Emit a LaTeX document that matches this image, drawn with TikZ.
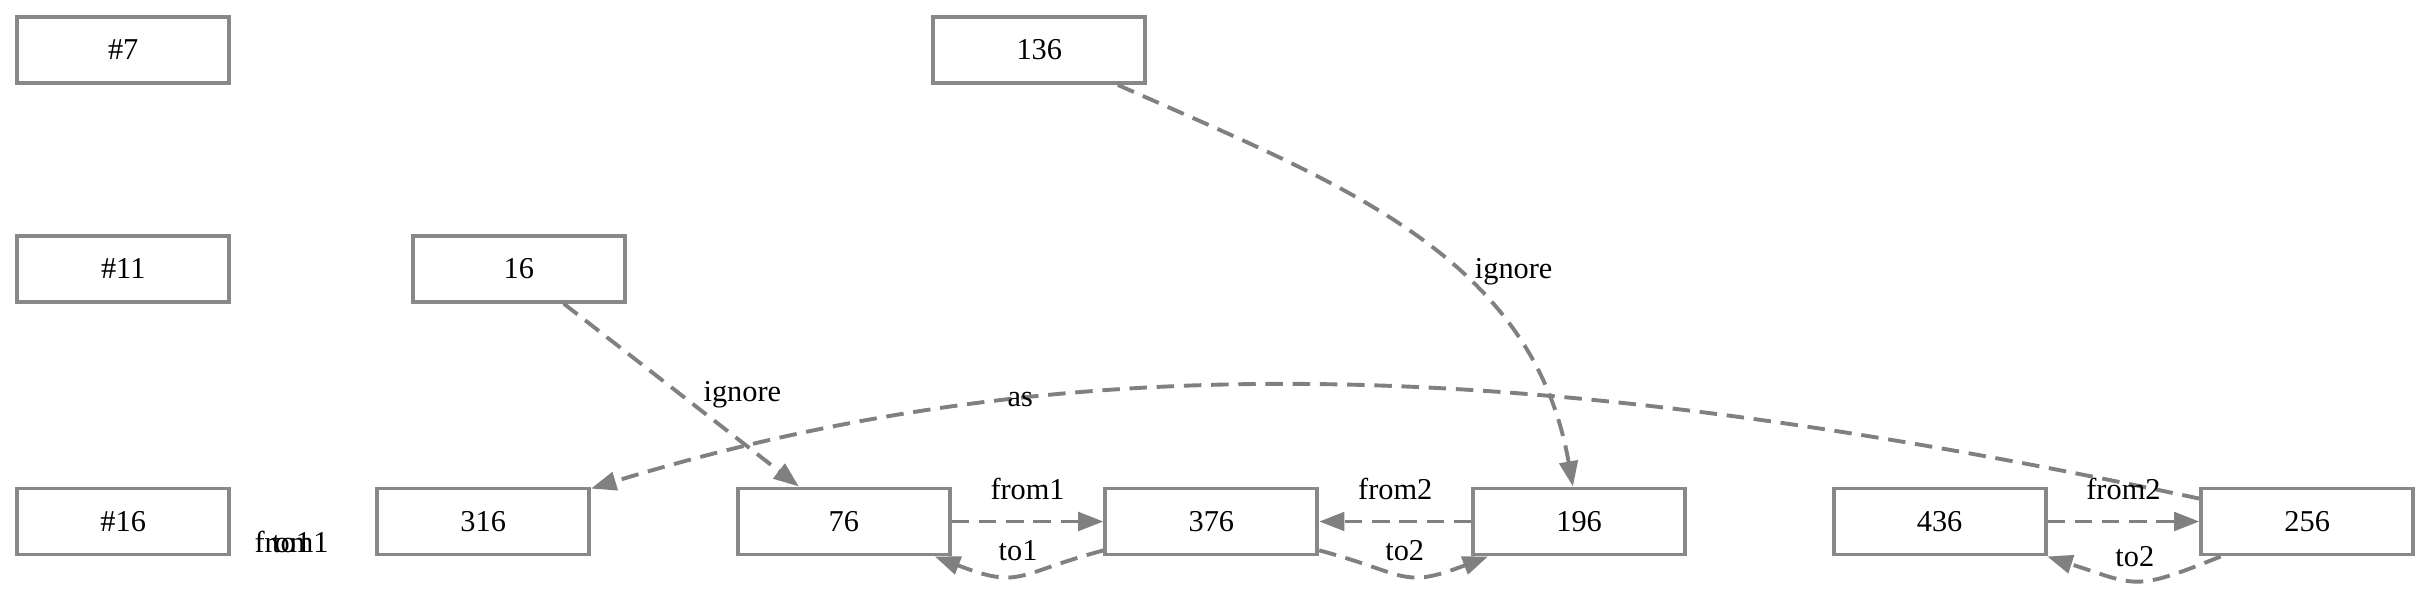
\documentclass[tikz,border=0pt]{standalone}
\usepackage{fontspec}
\setmainfont{Liberation Serif}
\usetikzlibrary{arrows.meta,positioning}
\definecolor{Frame}{HTML}{888888}
\definecolor{Edge}{HTML}{808080}

\begin{document}
\begin{tikzpicture}[
  vbox/.style={draw=Frame, line width=2pt, fill=white, minimum width=109pt,
    minimum height=34pt, inner sep=0pt, font=\fontsize{15.6}{18}\selectfont},
  lbl/.style={inner sep=2pt, font=\fontsize{15.6}{18}\selectfont},
  link/.style={draw=Edge, line width=2pt, dash pattern=on 9pt off 5pt,
    -{Triangle[length=13pt, width=9.5pt]}}
]
  \useasboundingbox (0,0) rectangle (1251.2pt,304.6pt);

  \node[vbox] (tag16) at (63.4pt,36.3pt) {\#16};
  \node[vbox, above=94.1pt of tag16] (tag11) {\#11};
  \node[vbox, above=76.5pt of tag11] (tag7) {\#7};
  \node[vbox, right=92.5pt of tag11] (id16) {16};
  \node[vbox, right=360.3pt of tag7] (id136) {136};
  \node[vbox, right=74.2pt of tag16] (id316) {316};
  \node[vbox, right=74.5pt of id316] (id76) {76};
  \node[vbox, right=78.1pt of id76] (id376) {376};
  \node[vbox, right=78.2pt of id376] (id196) {196};
  \node[vbox, right=74.5pt of id196] (id436) {436};
  \node[vbox, right=78.1pt of id436] (id256) {256};

  \node[lbl, anchor=base] (strayfrom) at (150pt,20.2pt) {from1};
  \node[lbl, anchor=base] (strayto) at (150pt,20.2pt) {to1};

  \draw[link] (id136) to[out=-24, in=100] node[lbl, pos=0.6, right=6pt]{ignore} (id196);
  \draw[link] (id16) -- node[lbl, right=8.5pt]{ignore} (id76);
  \draw[link] (id256) to[out=168, in=17, out looseness=1.1, in looseness=0.79]
    node[lbl, pos=0.7]{as} (id316);
  \draw[link] (id76) -- node[lbl, above=8pt]{from1} (id376);
  \draw[link] (id376) to[out=-165, in=-21, looseness=1.4] node[lbl, above=4pt]{to1} (id76);
  \draw[link] (id196) -- node[lbl, above=8pt]{from2} (id376);
  \draw[link] (id376) to[out=-15, in=-159, looseness=1.4] node[lbl, above=4pt]{to2} (id196);
  \draw[link] (id436) -- node[lbl, above=8pt]{from2} (id256);
  \draw[link] (id256) to[out=-158, in=-18, looseness=1.4] node[lbl, above=4pt]{to2} (id436);
\end{tikzpicture}
\end{document}
